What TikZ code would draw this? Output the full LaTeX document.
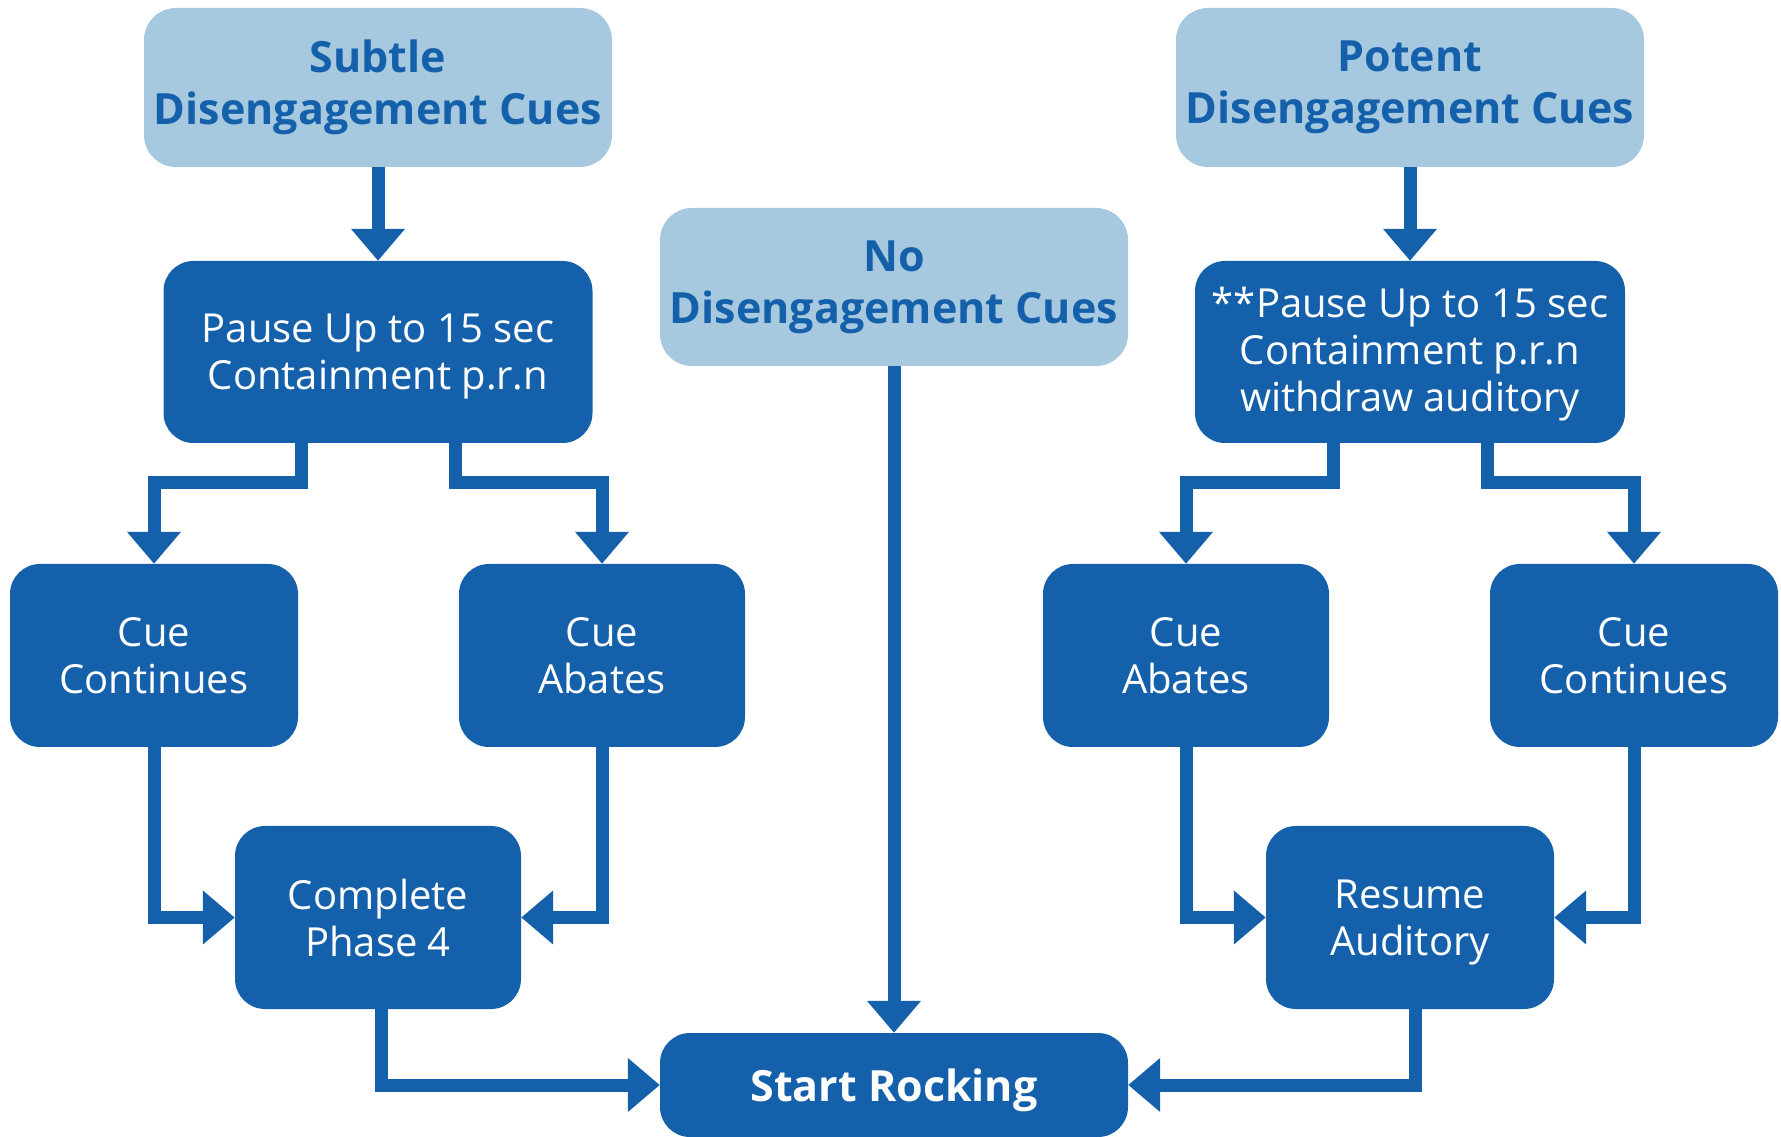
\documentclass[tikz,border=0pt]{standalone}
\usepackage{fontspec}
\setmainfont{Open Sans}
\usetikzlibrary{arrows.meta}
\definecolor{dark}{RGB}{21,96,170}
\definecolor{light}{RGB}{167,201,223}
\tikzset{
  darkbox/.style={fill=dark, text=white, rounded corners=30pt, inner sep=0pt, align=center,
    text depth=0pt, font=\fontsize{40}{47}\selectfont},
  lightbox/.style={fill=light, text=dark, rounded corners=32pt, inner sep=0pt, align=center,
    minimum width=468pt, font=\fontsize{43}{52}\selectfont\bfseries},
  conn/.style={draw=dark, line width=13pt, line join=miter, -{Triangle[width=52pt,length=32pt]}},
}
\begin{document}
\begin{tikzpicture}[x=1pt,y=1pt]
\useasboundingbox (0,0) rectangle (1781,1136);
% top boxes
\node[lightbox, minimum height=159pt] (subtle) at (378,1048.5) {Subtle\\Disengagement Cues};
\node[lightbox, minimum height=159pt] (potent) at (1410,1048.5) {Potent\\Disengagement Cues};
\node[lightbox, minimum height=158pt] (no) at (894,849) {No\\Disengagement Cues};
% pause boxes
\node[darkbox, minimum width=429pt, minimum height=182pt] (pauseL) at (378,784) {Pause Up to 15 sec\\Containment p.r.n};
\node[darkbox, minimum width=430pt, minimum height=182pt, text depth=6pt] (pauseR) at (1410,784) {**Pause Up to 15 sec\\Containment p.r.n\\withdraw auditory};
% cue boxes
\node[darkbox, minimum width=288pt, minimum height=183pt] (ccL) at (154,480.5) {Cue\\Continues};
\node[darkbox, minimum width=286pt, minimum height=183pt] (caL) at (602,480.5) {Cue\\Abates};
\node[darkbox, minimum width=286pt, minimum height=183pt] (caR) at (1186,480.5) {Cue\\Abates};
\node[darkbox, minimum width=288pt, minimum height=183pt] (ccR) at (1634,480.5) {Cue\\Continues};
% result boxes
\node[darkbox, minimum width=286pt, minimum height=183pt] (complete) at (378,218.5) {Complete\\Phase 4};
\node[darkbox, minimum width=288pt, minimum height=183pt] (resume) at (1410,218.5) {Resume\\Auditory};
\node[darkbox, minimum width=468pt, minimum height=104pt, font=\fontsize{43}{52}\selectfont\bfseries] (start) at (894,51) {Start Rocking};
% connectors
\draw[conn] (subtle.south) -- (pauseL.north);
\draw[conn] (potent.south) -- (pauseR.north);
\draw[conn] (no.south) -- (start.north);
\draw[conn] ([xshift=-77pt]pauseL.south) -- ++(0,-39) -| (ccL.north);
\draw[conn] ([xshift=77pt]pauseL.south) -- ++(0,-39) -| (caL.north);
\draw[conn] ([xshift=-77pt]pauseR.south) -- ++(0,-39) -| (caR.north);
\draw[conn] ([xshift=77pt]pauseR.south) -- ++(0,-39) -| (ccR.north);
\draw[conn] (ccL.south) |- (complete.west);
\draw[conn] (caL.south) |- (complete.east);
\draw[conn] (caR.south) |- (resume.west);
\draw[conn] (ccR.south) |- (resume.east);
\draw[conn] ([xshift=3pt]complete.south) |- (start.west);
\draw[conn] ([xshift=5pt]resume.south) |- (start.east);
\end{tikzpicture}
\end{document}
